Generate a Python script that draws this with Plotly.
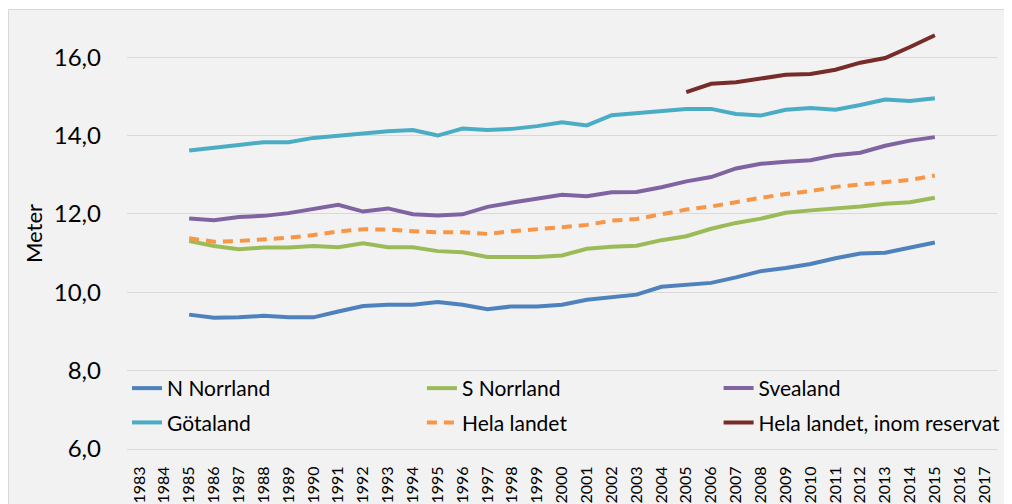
import plotly.graph_objects as go

# Medelhöjd per landsdel, meter
years = [str(y) for y in range(1983, 2018)]
data_years = [str(y) for y in range(1985, 2016)]

n_norrland = [9.43, 9.35, 9.36, 9.40, 9.36, 9.36, 9.51, 9.65, 9.68, 9.68, 9.75, 9.68,
              9.57, 9.64, 9.64, 9.68, 9.81, 9.88, 9.94, 10.14, 10.20, 10.24, 10.38, 10.54,
              10.62, 10.72, 10.87, 10.99, 11.01, 11.15, 11.27]
s_norrland = [11.31, 11.18, 11.10, 11.14, 11.14, 11.18, 11.15, 11.25, 11.15, 11.15, 11.05, 11.02,
              10.90, 10.90, 10.90, 10.94, 11.11, 11.16, 11.19, 11.33, 11.43, 11.62, 11.77, 11.88,
              12.03, 12.09, 12.13, 12.19, 12.26, 12.30, 12.41]
svealand = [11.88, 11.84, 11.92, 11.95, 12.02, 12.12, 12.23, 12.06, 12.14, 11.99, 11.96, 11.99,
            12.18, 12.29, 12.39, 12.49, 12.45, 12.55, 12.56, 12.68, 12.83, 12.94, 13.16, 13.28,
            13.33, 13.37, 13.50, 13.56, 13.74, 13.87, 13.96]
gotaland = [13.62, 13.68, 13.76, 13.83, 13.83, 13.94, 14.00, 14.05, 14.11, 14.14, 14.00, 14.18,
            14.14, 14.17, 14.24, 14.34, 14.26, 14.52, 14.57, 14.62, 14.68, 14.68, 14.55, 14.51,
            14.66, 14.70, 14.66, 14.78, 14.92, 14.88, 14.95]
hela_landet = [11.38, 11.29, 11.31, 11.35, 11.39, 11.46, 11.55, 11.61, 11.60, 11.56, 11.53, 11.53,
               11.49, 11.56, 11.60, 11.66, 11.72, 11.83, 11.87, 12.00, 12.11, 12.19, 12.31, 12.41,
               12.51, 12.58, 12.69, 12.75, 12.80, 12.87, 12.98]
reservat_years = [str(y) for y in range(2005, 2016)]
hela_reservat = [15.11, 15.32, 15.36, 15.45, 15.55, 15.57, 15.68, 15.86, 15.98, 16.26, 16.56]

y_ticks = [6, 8, 10, 12, 14, 16]

# name, x, y, colour, dash, legend column
series = [
    ("N Norrland", data_years, n_norrland, "#4F81BD", "solid", "legend"),
    ("S Norrland", data_years, s_norrland, "#9BBB59", "solid", "legend2"),
    ("Svealand", data_years, svealand, "#8064A2", "solid", "legend3"),
    ("Götaland", data_years, gotaland, "#4BACC6", "solid", "legend"),
    ("Hela landet", data_years, hela_landet, "#F79646", "10px,7px", "legend2"),
    ("Hela landet, inom reservat", reservat_years, hela_reservat, "#772C2A", "solid", "legend3"),
]

fig = go.Figure()
for name, xs, ys, color, dash, leg in series:
    fig.add_trace(go.Scatter(
        x=xs, y=ys, name=name, mode="lines",
        line=dict(color=color, width=4, dash=dash),
        legend=leg, legendgroup=name,
    ))

font = "Lato, 'Noto Sans', sans-serif"

# figure is a bit wider than the window so the last legend column has room
W, H = 1030, 496
L, R, T, B = 119, 41, 10, 55
pw, ph = W - L - R, H - T - B

# grey panel with thin border round the chart area (right edge at x=1001.5 of the figure)
fig.add_shape(
    type="rect", xref="paper", yref="paper", layer="below",
    x0=-(L - 0.5) / pw, x1=(1001.5 - L) / pw,
    y0=-(B + 5) / ph, y1=(ph + T - 1.5) / ph,
    fillcolor="#F2F2F2", line=dict(color="#D9D9D9", width=1),
)

leg_common = dict(
    orientation="v", xanchor="left", y=0.188, yanchor="top",
    bgcolor="rgba(0,0,0,0)", font=dict(size=21),
    itemwidth=30, tracegroupgap=4,
)

fig.update_layout(
    width=W, height=H,
    margin=dict(l=L, r=R, t=T, b=B),
    paper_bgcolor="white",
    plot_bgcolor="rgba(0,0,0,0)",
    separators=", ",
    font=dict(family=font, color="black"),
    showlegend=True,
    legend=dict(x=0.0, **leg_common),
    legend2=dict(x=0.339, **leg_common),
    legend3=dict(x=0.680, **leg_common),
)

fig.update_xaxes(
    type="category", categoryorder="array", categoryarray=years,
    range=[-0.5, len(years) - 0.5],
    tickangle=-90, tickfont=dict(size=16),
    showgrid=False, showline=True, linecolor="#D9D9D9", linewidth=1,
    ticks="", ticklabelstandoff=10, automargin=False,
)
fig.update_yaxes(
    range=[6, 17], tickvals=y_ticks, tickformat=".1f",
    tickfont=dict(size=24),
    showgrid=True, gridcolor="#D9D9D9", gridwidth=1,
    zeroline=False, ticks="", ticklabelstandoff=25, automargin=False,
    title=dict(text="Meter", font=dict(size=22), standoff=5),
)

fig.write_html("out.html")
